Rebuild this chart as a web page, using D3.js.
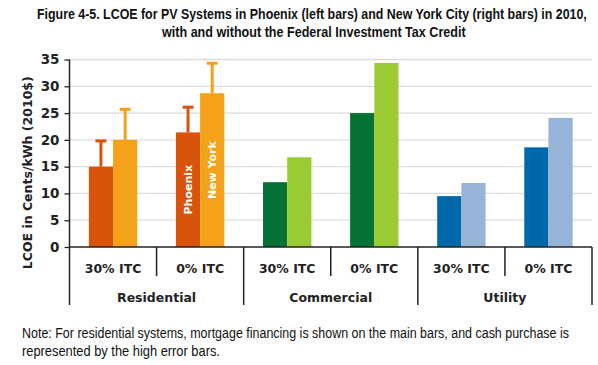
<!DOCTYPE html>
<html>
<head>
<meta charset="utf-8">
<script src="https://cdn.jsdelivr.net/npm/d3@7"></script>
<style>
  body { margin: 0; background: #fff; }
  svg { display: block; }
</style>
</head>
<body>
<svg id="chart"></svg>
<script>
// Data
const groups = ["Residential", "Commercial", "Utility"];
const itcLabels = ["30% ITC", "0% ITC"];
const cities = ["Phoenix", "New York"];
const phoenix = [15, 21.4, 12.1, 25, 9.5, 18.6];
const newYork = [20, 28.7, 16.75, 34.35, 11.95, 24.1];
// high error bars (cash purchase), residential only
const phoenixHigh = [19.8, 26.1, null, null, null, null];
const newYorkHigh = [25.7, 34.3, null, null, null, null];
const yTicks = [0, 5, 10, 15, 20, 25, 30, 35];
const darkColors = ["#d9540a", "#077235", "#0068a8"];
const lightColors = ["#f5a11a", "#9acb35", "#96b4d7"];

const width = 598, height = 365;
const marginLeft = 69.5, marginRight = 6;

const svg = d3.select("#chart")
    .attr("width", width)
    .attr("height", height);

const categories = d3.range(groups.length * itcLabels.length);

const x = d3.scaleBand()
    .domain(categories)
    .range([marginLeft, width - marginRight])
    .padding(0);

const xCity = d3.scaleBand()
    .domain(cities)
    .range([0, x.bandwidth()])
    .paddingInner(0)
    .paddingOuter(0.8);

const y = d3.scaleLinear()
    .domain([0, 35])
    .range([247, 59.5]);

const axisBottom = 305;
const font = "'DejaVu Sans', sans-serif";
const narrow = "'Liberation Sans Narrow', 'Arial Narrow', 'Liberation Sans', Arial, sans-serif";

// squeeze a text horizontally (narrow font stand-in) so it spans the wanted width
function fitText(sel, x0, y0, w, anchor) {
    const natural = sel.node().getComputedTextLength();
    const k = w / natural;
    const left = anchor === "middle" ? x0 - w / 2 : x0;
    sel.attr("text-anchor", "start")
        .attr("transform", `translate(${left},${y0}) scale(${k},1)`);
}

// Title
const title = svg.append("g")
    .attr("font-family", narrow)
    .attr("font-weight", "bold")
    .attr("font-size", 14)
    .attr("fill", "#111");
fitText(title.append("text")
    .text("Figure 4-5. LCOE for PV Systems in Phoenix (left bars) and New York City (right bars) in 2010,"),
    312, 19, 550, "middle");
fitText(title.append("text")
    .text("with and without the Federal Investment Tax Credit"),
    314, 37, 304, "middle");

// Gridlines
svg.append("g")
    .attr("stroke", "#dcdcdc")
    .attr("stroke-width", 1.3)
    .selectAll("line")
    .data(yTicks.filter(d => d > 0))
    .join("line")
    .attr("x1", marginLeft)
    .attr("x2", width - marginRight)
    .attr("y1", d => y(d))
    .attr("y2", d => y(d));

// Y axis
const yAxis = svg.append("g")
    .attr("transform", `translate(${marginLeft},0)`)
    .call(d3.axisLeft(y).tickValues(yTicks).tickSize(5).tickPadding(5));
yAxis.select(".domain").remove();
yAxis.selectAll(".tick line").attr("stroke", "#222").attr("stroke-width", 1.3);
yAxis.selectAll(".tick text")
    .attr("font-family", font)
    .attr("font-weight", "bold")
    .attr("font-size", 13.5)
    .attr("fill", "#222");
svg.append("line")
    .attr("x1", marginLeft).attr("x2", marginLeft)
    .attr("y1", y(35)).attr("y2", axisBottom)
    .attr("stroke", "#222").attr("stroke-width", 1.5);

svg.append("text")
    .attr("transform", `translate(32,${(y(35) + 272) / 2 + 7}) rotate(-90)`)
    .attr("text-anchor", "middle")
    .attr("font-family", font)
    .attr("font-weight", "bold")
    .attr("font-size", 12.5)
    .attr("fill", "#222")
    .text("LCOE in Cents/kWh (2010$)");

// Bars
const rows = categories.map(i => ({
    i,
    group: Math.floor(i / 2),
    values: [
        { city: cities[0], v: phoenix[i], high: phoenixHigh[i] },
        { city: cities[1], v: newYork[i], high: newYorkHigh[i] }
    ]
}));

const cat = svg.append("g")
    .selectAll("g")
    .data(rows)
    .join("g")
    .attr("transform", d => `translate(${x(d.i)},0)`);

const barColor = (d, g) => d.city === cities[0] ? darkColors[g] : lightColors[g];

cat.each(function (row) {
    const g = d3.select(this);
    // error bars first, bars drawn on top
    row.values.filter(d => d.high != null).forEach(d => {
        const cx = xCity(d.city) + xCity.bandwidth() / 2;
        g.append("line")
            .attr("x1", cx).attr("x2", cx)
            .attr("y1", y(d.v)).attr("y2", y(d.high))
            .attr("stroke", barColor(d, row.group))
            .attr("stroke-width", 3);
        g.append("line")
            .attr("x1", cx - 5.5).attr("x2", cx + 5.5)
            .attr("y1", y(d.high)).attr("y2", y(d.high))
            .attr("stroke", barColor(d, row.group))
            .attr("stroke-width", 3);
    });
    g.selectAll("rect")
        .data(row.values)
        .join("rect")
        .attr("x", d => xCity(d.city))
        .attr("width", xCity.bandwidth())
        .attr("y", d => y(d.v))
        .attr("height", d => y(0) - y(d.v))
        .attr("fill", d => barColor(d, row.group));
});

// City labels inside the residential 0% ITC bars
const labelRow = rows[1];
svg.append("g")
    .attr("font-family", font)
    .attr("font-weight", "bold")
    .attr("font-size", 11)
    .attr("fill", "#fff")
    .attr("text-anchor", "middle")
    .selectAll("text")
    .data(labelRow.values)
    .join("text")
    .attr("transform", d => `translate(${x(labelRow.i) + xCity(d.city) + xCity.bandwidth() / 2 + 4},${y(d.v / 2)}) rotate(-90)`)
    .text(d => d.city);

// Bottom axis line and dividers
svg.append("line")
    .attr("x1", marginLeft).attr("x2", width - marginRight)
    .attr("y1", y(0)).attr("y2", y(0))
    .attr("stroke", "#222").attr("stroke-width", 1.5);

svg.append("g")
    .attr("stroke", "#222")
    .attr("stroke-width", 1.5)
    .selectAll("line")
    .data(categories.map(i => i + 1))
    .join("line")
    .attr("x1", i => i < categories.length ? x(i) : width - marginRight)
    .attr("x2", i => i < categories.length ? x(i) : width - marginRight)
    .attr("y1", y(0))
    .attr("y2", i => i % 2 === 0 ? axisBottom : 276);

// Category labels
svg.append("g")
    .attr("font-family", font)
    .attr("font-weight", "bold")
    .attr("font-size", 12.5)
    .attr("fill", "#222")
    .attr("text-anchor", "middle")
    .selectAll("text")
    .data(categories)
    .join("text")
    .attr("x", i => x(i) + x.bandwidth() / 2)
    .attr("y", 273)
    .text(i => itcLabels[i % 2]);

svg.append("g")
    .attr("font-family", font)
    .attr("font-weight", "bold")
    .attr("font-size", 12.5)
    .attr("fill", "#222")
    .attr("text-anchor", "middle")
    .selectAll("text")
    .data(groups)
    .join("text")
    .attr("x", (d, gi) => x(gi * 2) + x.bandwidth())
    .attr("y", 302)
    .text(d => d);

// Note
const note = svg.append("g")
    .attr("font-family", narrow)
    .attr("font-size", 14)
    .attr("fill", "#111");
fitText(note.append("text")
    .text("Note: For residential systems, mortgage financing is shown on the main bars, and cash purchase is"),
    22, 338, 547, "start");
fitText(note.append("text")
    .text("represented by the high error bars."),
    22, 356, 198, "start");
</script>
</body>
</html>
